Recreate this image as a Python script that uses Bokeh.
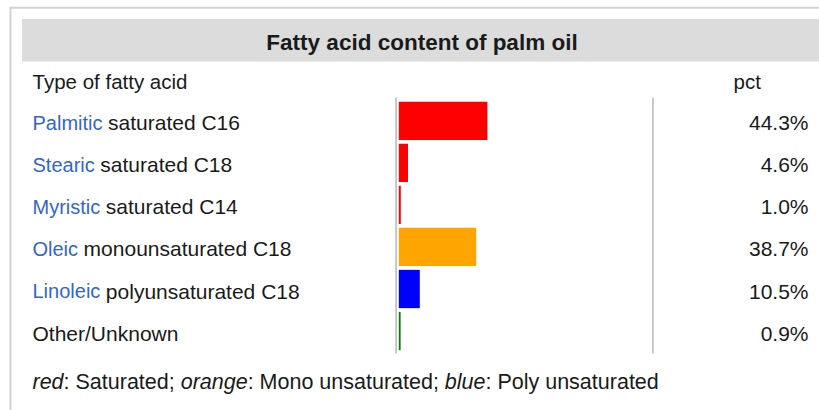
from bokeh.plotting import figure
from bokeh.models import Range1d, ColumnDataSource
from bokeh.core.properties import value
from bokeh.embed import file_html
from bokeh.resources import INLINE

# ---------------- data ----------------
title = "Fatty acid content of palm oil"
col_header_left = "Type of fatty acid"
col_header_right = "pct"
acid_names = ["Palmitic", "Stearic", "Myristic", "Oleic", "Linoleic", "Other/Unknown"]
acid_kinds = ["saturated C16", "saturated C18", "saturated C14",
              "monounsaturated C18", "polyunsaturated C18", ""]
pct_values = [44.3, 4.6, 1.0, 38.7, 10.5, 0.9]
bar_colors = ["#ff0000", "#ff0000", "#ff0000", "#ffa500", "#0000ff", "#008000"]
name_is_link = [True, True, True, True, True, False]
footer_parts = [("red", True), (": Saturated; ", False), ("orange", True),
                (": Mono unsaturated; ", False), ("blue", True), (": Poly unsaturated", False)]

# ---------------- layout ----------------
W, H = 819, 410
X0 = 398.3      # pixel x of the bars' zero
PXP = 2.0       # pixels per percent
Y0 = 120.3      # pixel y of first row centre
RH = 42.05      # row pitch in pixels
FONT = "Liberation Sans"

def px2x(px):
    return (px - X0) / PXP

def py2y(py):
    return (py - Y0) / RH

# Arial / Liberation Sans advance widths (per 1000 em)
AW = {' ': 278, '/': 278, ':': 278, ';': 278, '.': 278, '%': 889,
      'A': 667, 'B': 667, 'C': 722, 'D': 722, 'E': 667, 'F': 611, 'G': 778, 'H': 722,
      'I': 278, 'J': 500, 'K': 667, 'L': 556, 'M': 833, 'N': 722, 'O': 778, 'P': 667,
      'Q': 778, 'R': 722, 'S': 667, 'T': 611, 'U': 722, 'V': 667, 'W': 944, 'X': 667,
      'Y': 667, 'Z': 611,
      'a': 556, 'b': 556, 'c': 500, 'd': 556, 'e': 556, 'f': 278, 'g': 556, 'h': 556,
      'i': 222, 'j': 222, 'k': 500, 'l': 222, 'm': 833, 'n': 556, 'o': 556, 'p': 556,
      'q': 556, 'r': 333, 's': 500, 't': 278, 'u': 556, 'v': 500, 'w': 722, 'x': 500,
      'y': 500, 'z': 500}
for d in "0123456789":
    AW[d] = 556

def text_w(s, size):
    return sum(AW.get(c, 556) for c in s) * size / 1000.0

p = figure(width=W, height=H, output_backend="svg", toolbar_location=None,
           x_range=Range1d(px2x(0), px2x(W)), y_range=Range1d(py2y(H), py2y(0)),
           x_axis_type=None, y_axis_type=None, min_border=0,
           background_fill_color="white", border_fill_color="white")
p.outline_line_color = None
p.grid.visible = False

# outer frame (top and left edges visible)
p.segment(x0=[px2x(10)], y0=[py2y(7.3)], x1=[px2x(W)], y1=[py2y(7.3)], line_color="#d2d2d2", line_width=2)
p.segment(x0=[px2x(10)], y0=[py2y(6.3)], x1=[px2x(10)], y1=[py2y(H)], line_color="#d2d2d2", line_width=2)

# header band
p.quad(left=[px2x(21.5)], right=[px2x(W)], top=[py2y(18.5)], bottom=[py2y(61)],
       fill_color="#dcdcdc", line_color=None)
p.text(x=[px2x(421.5)], y=[py2y(41.5)], text=[title], text_font=value(FONT),
       text_font_size="22.5px", text_font_style="bold", text_align="center",
       text_baseline="middle", text_color="#1a1a1a")

# column headers
p.text(x=[px2x(32)], y=[py2y(81)], text=[col_header_left], text_font=value(FONT),
       text_font_size="20.5px", text_align="left", text_baseline="middle", text_color="#1a1a1a")
p.text(x=[px2x(733)], y=[py2y(81)], text=[col_header_right], text_font=value(FONT),
       text_font_size="20.5px", text_align="left", text_baseline="middle", text_color="#1a1a1a")

# vertical guide lines
p.segment(x0=[px2x(395.6), px2x(652.5)], y0=[py2y(97)] * 2,
          x1=[px2x(395.6), px2x(652.5)], y1=[py2y(353)] * 2,
          line_color="#c4c4c4", line_width=1.8)

idx = list(range(len(acid_names)))
ROW_FS = 21
LINK_FS = 20
name_fs = [LINK_FS if l else ROW_FS for l in name_is_link]
src = ColumnDataSource(dict(
    y=idx,
    pct=pct_values,
    color=bar_colors,
    name=acid_names,
    name_color=["#3366cc" if l else "#1a1a1a" for l in name_is_link],
    name_fs=[f"{s}px" for s in name_fs],
    kind=acid_kinds,
    kind_x=[px2x(32 + text_w(n + " ", s)) for n, s in zip(acid_names, name_fs)],
    label=[f"{v:.1f}%" for v in pct_values],
))

# bars
p.hbar(y="y", left=0, right="pct", height=38.3 / RH, fill_color="color",
       line_color=None, source=src)

# row labels
p.text(x=px2x(32), y="y", text="name", text_color="name_color", source=src,
       text_font=value(FONT), text_font_size="name_fs", text_align="left",
       text_baseline="middle", y_offset=2)
p.text(x="kind_x", y="y", text="kind", text_color="#1a1a1a", source=src,
       text_font=value(FONT), text_font_size=f"{ROW_FS}px", text_align="left",
       text_baseline="middle", y_offset=2)
p.text(x=px2x(808), y="y", text="label", text_color="#1a1a1a", source=src,
       text_font=value(FONT), text_font_size=f"{ROW_FS}px", text_align="right",
       text_baseline="middle", y_offset=2)

# footer
FS = 21.5
xpos = 32.0
for s, ital in footer_parts:
    p.text(x=[px2x(xpos)], y=[py2y(381)], text=[s], text_color="#1a1a1a",
           text_font=value(FONT), text_font_size=f"{FS}px",
           text_font_style="italic" if ital else "normal",
           text_align="left", text_baseline="middle")
    xpos += text_w(s, FS)

open("out.html", "w").write(file_html(p, INLINE))
